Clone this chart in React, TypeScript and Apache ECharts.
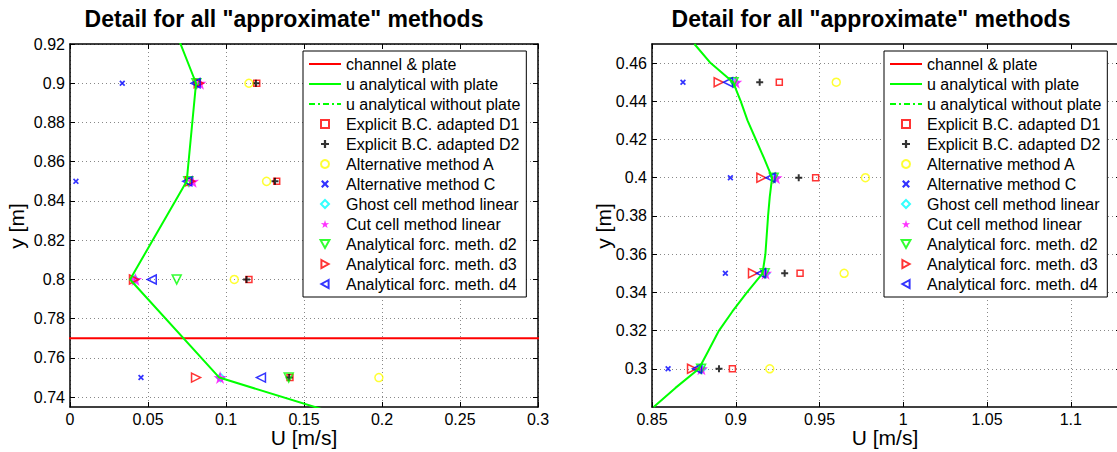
import React, { useEffect, useRef } from 'react';
import * as echarts from 'echarts';

const FONT = '"Liberation Sans", Arial, Helvetica, sans-serif';

const TITLE = 'Detail for all "approximate" methods';
const X_NAME = 'U [m/s]';
const Y_NAME = 'y [m]';

const NAMES = [
  'channel & plate',
  'u analytical with plate',
  'u analytical without plate',
  'Explicit B.C. adapted D1',
  'Explicit B.C. adapted D2',
  'Alternative method A',
  'Alternative method C',
  'Ghost cell method linear',
  'Cut cell method linear',
  'Analytical forc. meth. d2',
  'Analytical forc. meth. d3',
  'Analytical forc. meth. d4',
];

// ---------- left panel ----------
const leftXTicks = [0, 0.05, 0.1, 0.15, 0.2, 0.25, 0.3];
const leftXLabels = ['0', '0.05', '0.1', '0.15', '0.2', '0.25', '0.3'];
const leftYTicks = [0.74, 0.76, 0.78, 0.8, 0.82, 0.84, 0.86, 0.88, 0.9, 0.92];
const leftYRange = [0.735, 0.92];
const leftXRange = [0, 0.3];

const plateY = 0.77;
const plateX = [-1, 2];

const leftAnalyticY = [0.7, 0.75, 0.8, 0.85, 0.9, 0.95];
const leftAnalyticU = [0.3, 0.0957, 0.0385, 0.0748, 0.0808, 0.056];

const leftY = [0.9, 0.85, 0.8, 0.75];
const leftD1 = [0.1197, 0.1325, 0.1147, 0.141];
const leftD2 = [0.1192, 0.1314, 0.1132, 0.1405];
const leftAltA = [0.1147, 0.126, 0.1053, 0.198];
const leftAltC = [0.0335, 0.0038, null, 0.0455];
const leftGhost = [0.0815, 0.0765, 0.0415, 0.0965];
const leftCut = [0.0833, 0.0786, 0.042, 0.0962];
const leftD2f = [0.081, 0.0758, 0.0684, 0.1402];
const leftD3f = [0.0825, 0.077, 0.041, 0.0808];
const leftD4f = [0.0805, 0.0752, 0.0524, 0.1224];

// ---------- right panel ----------
const rightXTicks = [0.85, 0.9, 0.95, 1, 1.05, 1.1];
const rightXLabels = ['0.85', '0.9', '0.95', '1', '1.05', '1.1'];
const rightYTicks = [0.3, 0.32, 0.34, 0.36, 0.38, 0.4, 0.42, 0.44, 0.46];
const rightYRange = [0.28, 0.47];
const rightXRange = [0.85, 1.13];

const rightAnalyticY = [0.28, 0.29, 0.3, 0.31, 0.32, 0.33, 0.34, 0.35, 0.36, 0.37, 0.38, 0.39, 0.4, 0.41, 0.42, 0.43, 0.44, 0.45, 0.46, 0.47];
const rightAnalyticU = [0.851, 0.864, 0.878, 0.884, 0.89, 0.898, 0.9067, 0.916, 0.9177, 0.9185, 0.9193, 0.9203, 0.9217, 0.917, 0.912, 0.907, 0.903, 0.8984, 0.885, 0.8753];

const rightY = [0.45, 0.4, 0.35, 0.3];
const rightD1 = [0.926, 0.9477, 0.9384, 0.898];
const rightD2 = [0.9143, 0.9376, 0.9292, 0.89];
const rightAltA = [0.96, 0.9774, 0.9647, 0.9203];
const rightAltC = [0.8685, 0.8968, 0.8938, 0.8596];
const rightGhost = [0.8995, 0.9235, 0.918, 0.8798];
const rightCut = [0.9, 0.924, 0.9178, 0.8795];
const rightD2f = [0.8987, 0.9227, 0.9173, 0.8793];
const rightD3f = [0.8898, 0.9153, 0.9103, 0.8739];
const rightD4f = [0.8954, 0.9207, 0.9151, 0.8769];

const SQUARE = 'path://M0,0H10V10H0Z';
const DIAMOND = 'path://M5,0L10,5L5,10L0,5Z';
const PLUS = 'path://M3.6,0H6.4V3.6H10V6.4H6.4V10H3.6V6.4H0V3.6H3.6Z';
const CROSS = 'path://M0,2L2,0L5,3L8,0L10,2L7,5L10,8L8,10L5,7L2,10L0,8L3,5Z';
const STAR = 'path://M50,0L61.8,35.4L97.6,34.5L69,56.9L79.4,90.5L50,70L20.6,90.5L31,56.9L2.4,34.5L38.2,35.4Z';
const TRI_DOWN = 'path://M0,0L10,0L5,9Z';
const TRI_RIGHT = 'path://M0,0L9,5L0,10Z';
const TRI_LEFT = 'path://M9,0L0,5L9,10Z';

const pairs = (xs: (number | null)[], ys: number[]) =>
  xs.map((x, i) => (x == null ? null : [x, ys[i]])).filter((p) => p !== null);

type Marker = { symbol: string; size: number; color: string; hollow: boolean };
const MARKERS: Marker[] = [
  { symbol: SQUARE, size: 6, color: '#ff0000', hollow: true },
  { symbol: PLUS, size: 7, color: '#000000', hollow: false },
  { symbol: 'circle', size: 8, color: '#ffff00', hollow: true },
  { symbol: CROSS, size: 6, color: '#0000ff', hollow: false },
  { symbol: DIAMOND, size: 8, color: '#00ffff', hollow: true },
  { symbol: STAR, size: 13, color: '#ff00ff', hollow: false },
  { symbol: TRI_DOWN, size: 9, color: '#00ff00', hollow: true },
  { symbol: TRI_RIGHT, size: 9, color: '#ff0000', hollow: true },
  { symbol: TRI_LEFT, size: 9, color: '#0000ff', hollow: true },
];

const GRID_L = { left: 70, top: 44, width: 468, height: 363 };
const GRID_R = { left: 652, top: 44, width: 469, height: 363 };

function makeAxes(ticksX: number[], labelsX: string[], rangeX: number[], ticksY: number[], rangeY: number[], gridIndex: number) {
  const line = { show: true, onZero: false, lineStyle: { color: '#000', width: 1.5 } };
  const tick = { show: true, inside: true, length: 5, lineStyle: { color: '#000' } };
  const split = { show: true, lineStyle: { color: '#888', type: [1, 3], width: 1 } };
  const xb = {
    type: 'value', gridIndex, min: rangeX[0], max: rangeX[1], position: 'bottom',
    axisLine: line,
    axisTick: { ...tick, customValues: ticksX },
    axisLabel: {
      customValues: ticksX, color: '#000', fontSize: 16, fontFamily: FONT, margin: 4,
      formatter: (v: number) => { const i = ticksX.findIndex((t) => Math.abs(t - v) < 1e-9); return i >= 0 ? labelsX[i] : ''; },
    },
    splitLine: split,
  };
  const xt = {
    type: 'value', gridIndex, min: rangeX[0], max: rangeX[1], position: 'top',
    axisLine: line, axisTick: { ...tick, customValues: ticksX },
    axisLabel: { show: false }, splitLine: { show: false },
  };
  const yl = {
    type: 'value', gridIndex, min: rangeY[0], max: rangeY[1], position: 'left',
    axisLine: line,
    axisTick: { ...tick, customValues: ticksY },
    axisLabel: { customValues: ticksY, color: '#000', fontSize: 16, fontFamily: FONT, margin: 5, formatter: (v: number) => String(+v.toFixed(4)) },
    splitLine: split,
  };
  const yr = {
    type: 'value', gridIndex, min: rangeY[0], max: rangeY[1], position: 'right',
    axisLine: line, axisTick: { ...tick, customValues: ticksY },
    axisLabel: { show: false }, splitLine: { show: false },
  };
  return { x: [xb, xt], y: [yl, yr] };
}

function panelSeries(axisIndex: number, analytic: number[][], plate: number[][], sets: (number | null)[][], ys: number[]) {
  const base = { xAxisIndex: axisIndex, yAxisIndex: axisIndex, silent: true };
  const lineBase = { ...base, type: 'line', symbol: 'circle', symbolSize: 1, showSymbol: false };
  const out: any[] = [
    { ...lineBase, name: NAMES[0], data: plate, lineStyle: { color: '#ff0000', width: 2 }, itemStyle: { color: '#ff0000', opacity: 0 } },
    { ...lineBase, name: NAMES[1], data: analytic, lineStyle: { color: '#00ff00', width: 2 }, itemStyle: { color: '#00ff00', opacity: 0 } },
    { ...lineBase, name: NAMES[2], data: [], lineStyle: { color: '#00ff00', width: 1.5, type: [6, 3, 2, 3] }, itemStyle: { color: '#00ff00', opacity: 0 } },
  ];
  MARKERS.forEach((m, i) => {
    out.push({
      ...base, type: 'scatter', name: NAMES[i + 3], symbol: m.symbol, symbolSize: m.size,
      itemStyle: m.hollow
        ? { color: 'rgba(255,255,255,0)', borderColor: m.color, borderWidth: 1.5 }
        : { color: m.color, borderWidth: 0 },
      data: pairs(sets[i], ys),
    });
  });
  return out;
}

function legendAt(left: number) {
  return {
    orient: 'vertical', left, top: 51, itemWidth: 32, itemHeight: 8, itemGap: 4,
    padding: [5, 6, 5, 5], borderColor: '#000', borderWidth: 1, backgroundColor: '#fff',
    selectedMode: false,
    data: NAMES.map((n, i) => (i < 3 ? { name: n, itemStyle: { opacity: 0 } } : { name: n })),
    textStyle: { fontSize: 16, color: '#000', fontFamily: FONT },
  };
}

export default function App() {
  const ref = useRef<HTMLDivElement>(null);
  useEffect(() => {
    if (!ref.current) return;
    const chart = echarts.init(ref.current, undefined, { renderer: 'svg' });
    const aL = makeAxes(leftXTicks, leftXLabels, leftXRange, leftYTicks, leftYRange, 0);
    const aR = makeAxes(rightXTicks, rightXLabels, rightXRange, rightYTicks, rightYRange, 1);
    const plateData = plateX.map((x) => [x, plateY]);
    const leftLine = leftAnalyticU.map((u, i) => [u, leftAnalyticY[i]]);
    const rightLine = rightAnalyticU.map((u, i) => [u, rightAnalyticY[i]]);
    const leftSets = [leftD1, leftD2, leftAltA, leftAltC, leftGhost, leftCut, leftD2f, leftD3f, leftD4f];
    const rightSets = [rightD1, rightD2, rightAltA, rightAltC, rightGhost, rightCut, rightD2f, rightD3f, rightD4f];
    const txt = (x: number, y: number, text: string, size: number, bold = false, rot = 0) => ({
      type: 'text', x, y, rotation: rot, silent: true,
      style: { text, fontSize: size, fontWeight: bold ? 'bold' : 'normal', fontFamily: FONT, fill: '#000', align: 'center', verticalAlign: 'middle' },
    });
    chart.setOption({
      animation: false,
      backgroundColor: '#fff',
      textStyle: { fontFamily: FONT },
      grid: [GRID_L, GRID_R],
      xAxis: [...aL.x, ...aR.x],
      yAxis: [...aL.y, ...aR.y],
      legend: [legendAt(303), legendAt(884)],
      series: [
        ...panelSeries(0, leftLine, plateData, leftSets, leftY),
        ...panelSeries(2, rightLine, [], rightSets, rightY),
      ],
      graphic: [
        txt(284, 19, TITLE, 23, true),
        txt(871, 19, TITLE, 23, true),
        txt(304, 437, X_NAME, 21),
        txt(885, 437, X_NAME, 21),
        txt(16, 226, Y_NAME, 21, false, Math.PI / 2),
        txt(603, 226, Y_NAME, 21, false, Math.PI / 2),
      ],
    });
    return () => chart.dispose();
  }, []);
  return (
    <div style={{ position: 'fixed', left: 0, top: 0, width: 1117, height: 452, overflow: 'hidden', background: '#fff' }}>
      <div ref={ref} style={{ width: 1135, height: 452 }} />
    </div>
  );
}
